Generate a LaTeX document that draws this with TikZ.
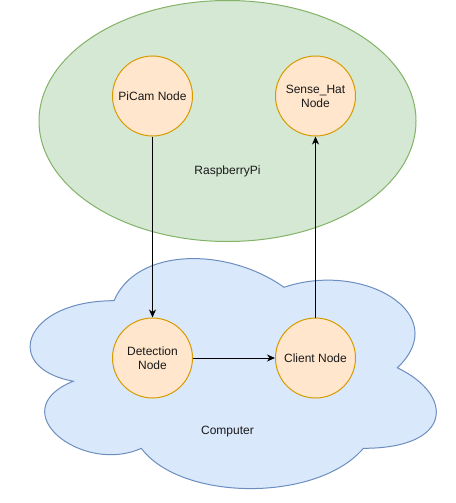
\documentclass[tikz,border=0pt]{standalone}
\usepackage{fontspec}
\setmainfont{Liberation Sans}
\usetikzlibrary{arrows.meta}
\definecolor{gfill}{HTML}{D5E8D4}
\definecolor{gline}{HTML}{82B366}
\definecolor{bfill}{HTML}{DAE8FC}
\definecolor{bline}{HTML}{6C8EBF}
\definecolor{ofill}{HTML}{FFE6CC}
\definecolor{oline}{HTML}{D79B00}
\definecolor{txt}{HTML}{1A1A1A}
\tikzset{
  rosnode/.style={circle, draw=oline, fill=ofill, line width=1pt, minimum size=80pt, inner sep=0pt, align=center, font=\fontsize{12pt}{14pt}\selectfont, text=txt},
  lbl/.style={font=\fontsize{12pt}{14pt}\selectfont, text=txt},
  flow/.style={-{Stealth[length=8pt,width=7pt,inset=2.5pt]}, line width=1pt, black},
}
\begin{document}
\begin{tikzpicture}[x=1pt,y=-1pt]
\useasboundingbox (0,0) rectangle (455,503);
% RaspberryPi ellipse
\filldraw[fill=gfill, draw=gline, line width=1pt] (227.5,121) ellipse [x radius=188.5, y radius=120.5];
% Computer cloud
\begin{scope}[shift={(0.7,233.6)}, xscale=453.3, yscale=268.4]
\filldraw[fill=bfill, draw=bline, line width=1pt]
  (0.25,0.25) .. controls (0.05,0.25) and (0,0.5) .. (0.16,0.55)
  .. controls (0,0.66) and (0.18,0.9) .. (0.31,0.8)
  .. controls (0.4,1) and (0.7,1) .. (0.8,0.8)
  .. controls (1,0.8) and (1,0.6) .. (0.875,0.5)
  .. controls (1,0.3) and (0.8,0.1) .. (0.625,0.2)
  .. controls (0.5,0.05) and (0.3,0.05) .. (0.25,0.25) -- cycle;
\end{scope}
\node[lbl] (rpilabel) at (227.5,171) {RaspberryPi};
\node[lbl] (pclabel) at (227.5,432) {Computer};
\node[rosnode] (picam) at (152.5,96) {PiCam Node};
\node[rosnode] (sense) at (315.5,96) {Sense\_Hat\\Node};
\node[rosnode] (detect) at (152.5,358) {Detection\\Node};
\node[rosnode] (client) at (315.5,358) {Client Node};
\draw[flow] (picam) -- (detect);
\draw[flow] (detect) -- (client);
\draw[flow] (client) -- (sense);
\end{tikzpicture}
\end{document}
